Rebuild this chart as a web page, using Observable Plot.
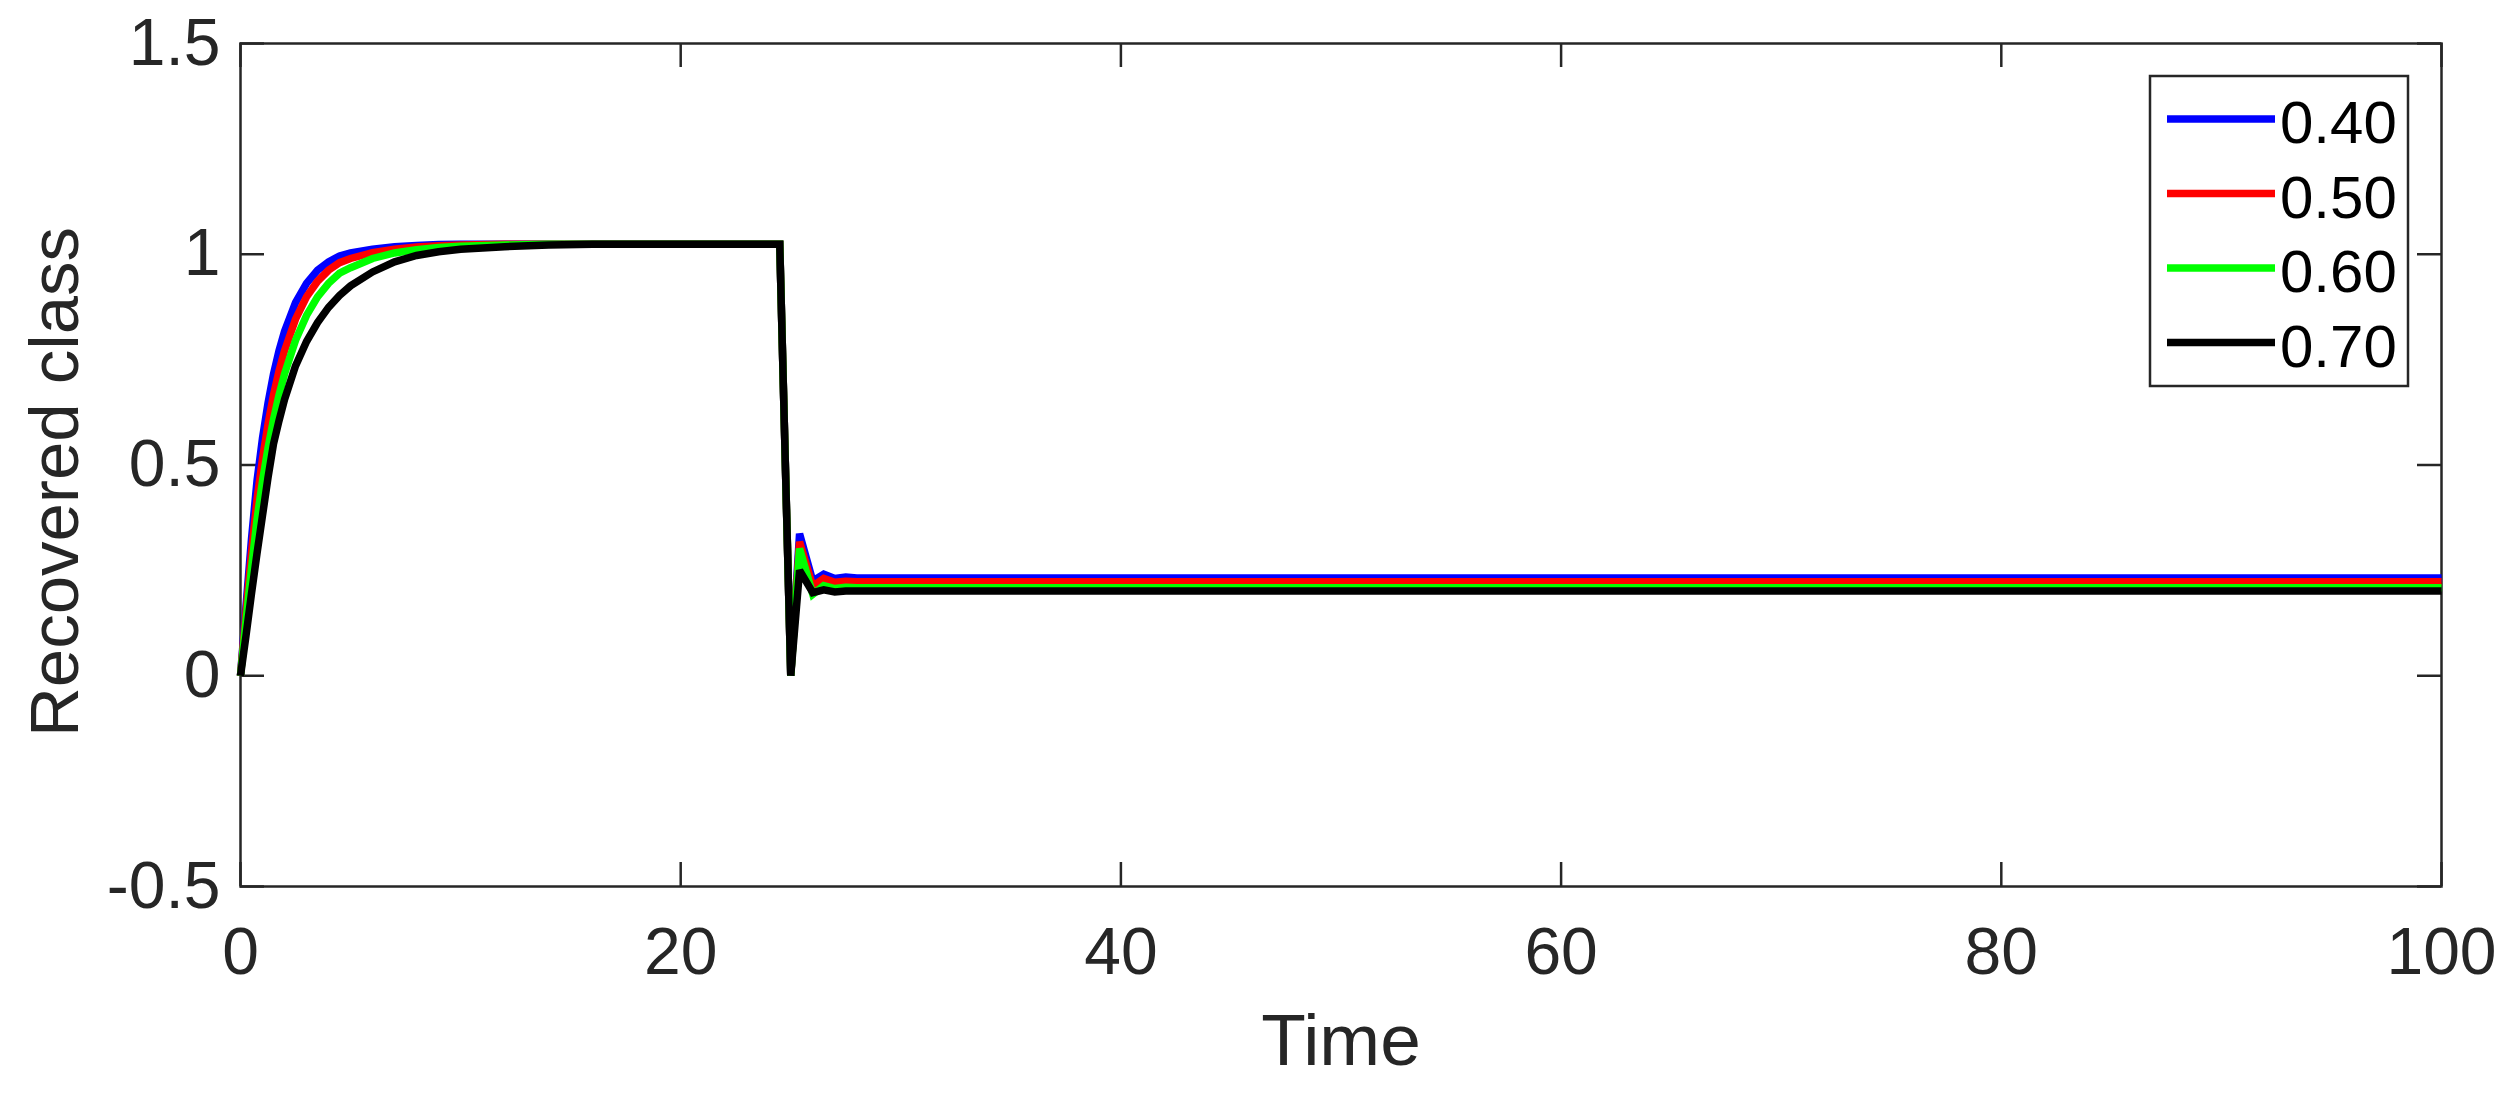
<!DOCTYPE html>
<html>
<head>
<meta charset="utf-8">
<script src="https://cdn.jsdelivr.net/npm/d3@7"></script>
<script src="https://cdn.jsdelivr.net/npm/@observablehq/plot@0.6"></script>
<style>
  html, body { margin: 0; padding: 0; background: #ffffff; }
  #chart { width: 2516px; height: 1094px; }
</style>
</head>
<body>
<div id="chart"></div>
<script>
// ---- data ----
const time = [0, 0.25, 0.5, 0.75, 1, 1.25, 1.5, 1.75, 2, 2.5, 3, 3.5, 4, 4.5, 5, 6, 7, 8, 9, 10, 12, 14, 16, 18, 24.5, 25.0, 25.4, 26.0, 26.5, 27.0, 27.5, 28, 100];

const s040 = [0, 0.165, 0.325, 0.462, 0.564, 0.647, 0.716, 0.771, 0.817, 0.885, 0.931, 0.962, 0.982, 0.996, 1.003, 1.012, 1.018, 1.021, 1.023, 1.024, 1.024, 1.024, 1.024, 1.024, 1.024, 0, 0.337, 0.225, 0.241, 0.231, 0.234, 0.232, 0.232];
const s050 = [0, 0.150, 0.292, 0.418, 0.515, 0.597, 0.666, 0.723, 0.771, 0.846, 0.899, 0.936, 0.962, 0.980, 0.990, 1.004, 1.012, 1.017, 1.020, 1.022, 1.024, 1.024, 1.024, 1.024, 1.024, 0, 0.318, 0.212, 0.231, 0.222, 0.224, 0.223, 0.223];
const s060 = [0, 0.130, 0.255, 0.371, 0.462, 0.540, 0.608, 0.666, 0.716, 0.796, 0.855, 0.899, 0.931, 0.955, 0.968, 0.990, 1.003, 1.011, 1.016, 1.019, 1.022, 1.024, 1.024, 1.024, 1.024, 0, 0.302, 0.193, 0.214, 0.207, 0.210, 0.209, 0.209];
const s070 = [0, 0.095, 0.195, 0.290, 0.380, 0.470, 0.550, 0.605, 0.655, 0.735, 0.793, 0.838, 0.874, 0.902, 0.925, 0.958, 0.982, 0.997, 1.006, 1.012, 1.018, 1.022, 1.024, 1.024, 1.024, 0, 0.250, 0.197, 0.204, 0.199, 0.201, 0.201, 0.201];

const seriesLabels = ["0.40", "0.50", "0.60", "0.70"];
const seriesColors = ["#0000ff", "#ff0000", "#00ff00", "#000000"];

const xTicks = [0, 20, 40, 60, 80, 100];
const yTicks = [-0.5, 0, 0.5, 1, 1.5];
const yTickLabels = ["-0.5", "0", "0.5", "1", "1.5"];
const xLabel = "Time";
const yLabel = "Recovered class";

// ---- layout ----
const W = 2516, H = 1094;
const mL = 240, mR = 75, mT = 43, mB = 208;
const plotW = W - mL - mR, plotH = H - mT - mB;
const axisColor = "#262626";
const tickLen = 24;
const fontFamily = "'Liberation Sans', Arial, Helvetica, sans-serif";

const series = [s040, s050, s060, s070];
const lineMarks = series.map((vals, i) =>
  Plot.line(time.map((t, j) => ({t, v: vals[j]})), {
    x: "t", y: "v",
    stroke: seriesColors[i],
    strokeWidth: 7.5,
    strokeLinejoin: "miter",
    strokeMiterlimit: 2,
    strokeLinecap: "butt"
  })
);

const chart = Plot.plot({
  width: W,
  height: H,
  marginLeft: mL,
  marginRight: mR,
  marginTop: mT,
  marginBottom: mB,
  style: {
    fontFamily: fontFamily,
    color: axisColor,
    background: "#ffffff"
  },
  x: {domain: [0, 100]},
  y: {domain: [-0.5, 1.5]},
  marks: [
    Plot.frame({stroke: axisColor, strokeWidth: 2.5}),
    Plot.tickX(xTicks, {x: d => d, stroke: axisColor, strokeWidth: 2.5, insetTop: plotH - tickLen}),
    Plot.tickX(xTicks, {x: d => d, stroke: axisColor, strokeWidth: 2.5, insetBottom: plotH - tickLen}),
    Plot.tickY(yTicks, {y: d => d, stroke: axisColor, strokeWidth: 2.5, insetRight: plotW - tickLen}),
    Plot.tickY(yTicks, {y: d => d, stroke: axisColor, strokeWidth: 2.5, insetLeft: plotW - tickLen}),
    Plot.axisX({ticks: xTicks, tickSize: 0, tickPadding: 41, fontSize: 66, label: null, fill: axisColor}),
    Plot.axisY({ticks: yTicks, tickSize: 0, tickPadding: 20, fontSize: 66, label: null, fill: axisColor,
      tickFormat: d => yTickLabels[yTicks.indexOf(d)]}),
    Plot.text([xLabel], {text: d => d, frameAnchor: "bottom", textAnchor: "middle", lineAnchor: "top", dy: 127, fontSize: 73, fill: axisColor}),
    Plot.text([yLabel], {text: d => d, frameAnchor: "left", textAnchor: "middle", rotate: -90, lineAnchor: "bottom", dx: -163, dy: 17, fontSize: 69, fill: axisColor}),
    ...lineMarks
  ]
});

document.getElementById("chart").appendChild(chart);

// ---- legend (inside the axes, top-right) ----
const svg = d3.select(chart);
const lg = svg.append("g").attr("class", "legend");
lg.append("rect")
  .attr("x", 2150).attr("y", 76)
  .attr("width", 258).attr("height", 310)
  .attr("fill", "#ffffff")
  .attr("stroke", axisColor)
  .attr("stroke-width", 2.5);
seriesLabels.forEach((lab, i) => {
  const cy = 119 + i * 74.5;
  lg.append("line")
    .attr("x1", 2167).attr("x2", 2275)
    .attr("y1", cy).attr("y2", cy)
    .attr("stroke", seriesColors[i])
    .attr("stroke-width", 7.5);
  lg.append("text")
    .attr("x", 2280).attr("y", cy + 24)
    .attr("font-size", 60)
    .attr("text-anchor", "start")
    .attr("fill", "#000000")
    .attr("font-family", fontFamily)
    .text(lab);
});
</script>
</body>
</html>
